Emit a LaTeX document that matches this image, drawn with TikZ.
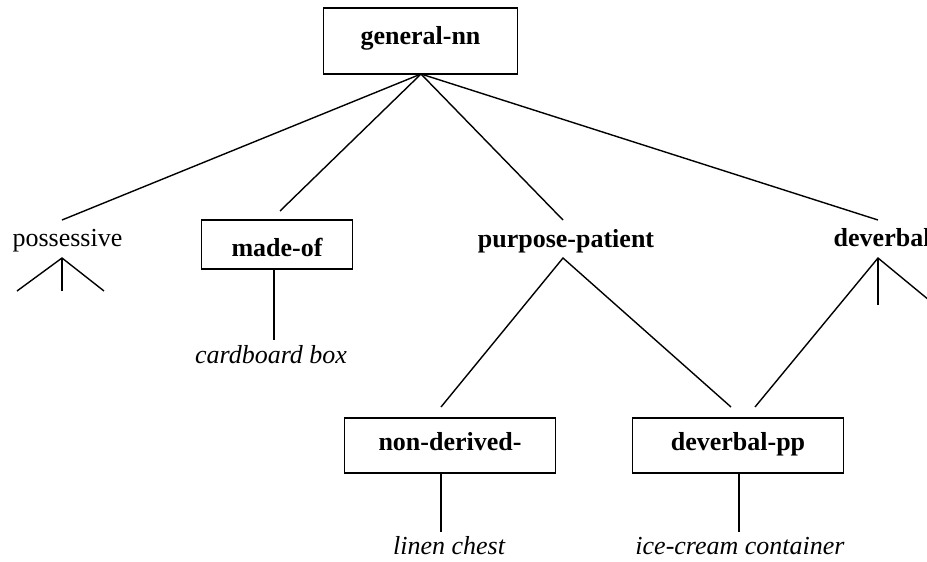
\documentclass[tikz,border=0pt]{standalone}
\usepackage{fontspec}
\setmainfont{Liberation Serif}
\begin{document}
\begin{tikzpicture}[x=1pt,y=-1pt,
  line width=1.4pt,
  lbl/.style={inner sep=0pt,anchor=base,font=\fontsize{26}{30}\selectfont},
  cat/.style={lbl,font=\fontsize{26}{30}\selectfont\bfseries},
  ex/.style={lbl,font=\fontsize{26}{30}\selectfont\itshape},
  catbox/.style={cat,draw,text width=#1-1.4pt,align=center},
]
\clip (0,0) rectangle (927,562);
\fill[white] (0,0) rectangle (927,562);

% boxed categories (text height/depth give the frame above/below the baseline)
\node[catbox=195pt,text height=37pt,text depth=29pt] (gen) at (420.5,45) {general-nn};
\node[catbox=152pt,text height=36pt,text depth=13pt] (made) at (277,256) {made-of};
\node[catbox=212pt,text height=32pt,text depth=23pt] (nond) at (450,450) {non-derived-};
\node[catbox=212pt,text height=32pt,text depth=23pt] (dvpp) at (738,450) {deverbal-pp};

% unboxed categories
\node[lbl] (poss) at (67.5,246) {possessive};
\node[cat] (purp) at (566,247) {purpose-patient};
\node[cat,anchor=base west] (dverb) at (833,246) {deverbal};

% examples
\node[ex] (card) at (271,363) {cardboard box};
\node[ex] (linen) at (449,554) {linen chest};
\node[ex] (ice) at (740,554) {ice-cream container};

% attachment points
\coordinate (genB) at (421,74);
\coordinate (possT) at (62,220);
\coordinate (madeT) at (280,211);
\coordinate (purpT) at (563,220);
\coordinate (dverbT) at (878,220);

\coordinate (possA) at (62,258);
\coordinate (possL) at (17,291);
\coordinate (possM) at (62,291);
\coordinate (possR) at (104,291);

\coordinate (madeB) at (274,269);
\coordinate (cardT) at (274,340);

\coordinate (purpA) at (563,258);
\coordinate (nondT) at (441,407);
\coordinate (dvppT1) at (731,407);

\coordinate (dverbA) at (878,258);
\coordinate (dvppT2) at (755,407);
\coordinate (dverbM) at (878,305);
\coordinate (dverbR) at (935,305);

\coordinate (nondB) at (441,473);
\coordinate (linenT) at (441,532);
\coordinate (dvppB) at (739,473);
\coordinate (iceT) at (739,532);

% connectors
\draw (genB) -- (possT);
\draw (genB) -- (madeT);
\draw (genB) -- (purpT);
\draw (genB) -- (dverbT);

\draw (possL) -- (possA) -- (possR);
\draw (possA) -- (possM);

\draw (madeB) -- (cardT);

\draw (nondT) -- (purpA) -- (dvppT1);
\draw (dvppT2) -- (dverbA) -- (dverbR);
\draw (dverbA) -- (dverbM);

\draw (nondB) -- (linenT);
\draw (dvppB) -- (iceT);
\end{tikzpicture}
\end{document}
